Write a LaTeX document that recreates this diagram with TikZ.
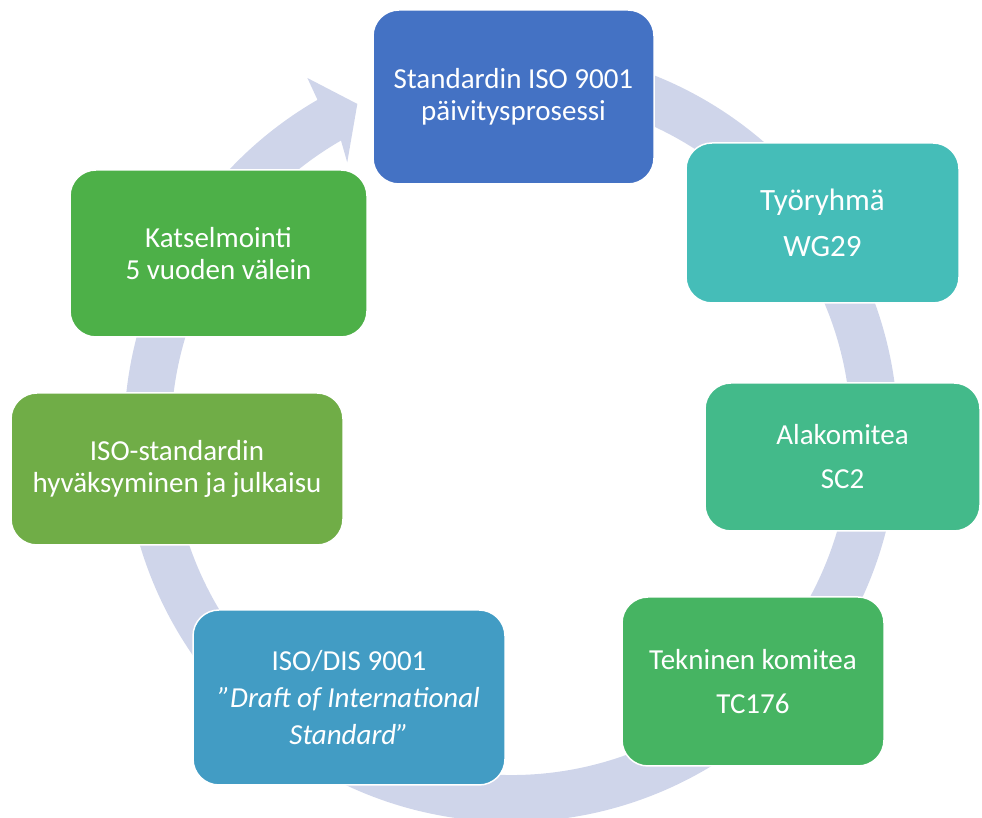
\documentclass[tikz,border=0pt]{standalone}
\usepackage{fontspec}
\setmainfont{Carlito}
\usepackage{tikz}
\definecolor{ringblue}{HTML}{CFD5EA}
\definecolor{topblue}{HTML}{4472C4}
\definecolor{teal}{HTML}{45BDB8}
\definecolor{seagreen}{HTML}{43BA8A}
\definecolor{midgreen}{HTML}{46B462}
\definecolor{skyblue}{HTML}{429CC4}
\definecolor{olivegreen}{HTML}{70AD47}
\definecolor{leafgreen}{HTML}{4DB048}
\tikzstyle{stage}=[rounded corners=26pt, draw=white, line width=1.5pt, text=white, align=center, inner sep=0pt, font=\fontsize{29}{32}\selectfont]
\newcommand{\stage}{\node[stage]}

\begin{document}
\begin{tikzpicture}[x=1pt,y=1pt]
            \useasboundingbox (0,0) rectangle (982,818);
            % ring with arrow head
            \begin{scope}[shift={(511,383)}]
                \fill[ringblue] (85:387) arc[start angle=85,end angle=-240,radius=387]
                    -- (119.7:411) -- (114.9:365) -- (121:318) -- (120:340)
                    arc[start angle=-240,end angle=85,radius=340] -- cycle;
            \end{scope}
            \stage[fill=topblue, minimum width=281, minimum height=174] (iso) at (513.5,721)
                {Standardin ISO 9001\\päivitysprosessi};
            \stage[fill=teal, minimum width=273, minimum height=160, font=\fontsize{31}{33}\selectfont] (wg) at (822.5,595)
                {Työryhmä\\[13pt]WG29};
            \stage[fill=seagreen, minimum width=275, minimum height=148] (sc) at (842.5,361)
                {Alakomitea\\[12pt]SC2};
            \stage[fill=midgreen, minimum width=262, minimum height=169] (tc) at (753,136.5)
                {Tekninen komitea\\[12pt]TC176};
            \stage[fill=skyblue, minimum width=312, minimum height=175] (dis) at (349,120.5)
                {ISO/DIS 9001\\[5pt]\textit{”Draft of International}\\[5pt]\textit{Standard”}};
            \stage[fill=olivegreen, minimum width=332, minimum height=152] (pub) at (177,349)
                {ISO-standardin\\hyväksyminen ja julkaisu};
            \stage[fill=leafgreen, minimum width=297, minimum height=167] (rev) at (218.5,564.5)
                {Katselmointi\\5 vuoden välein};
\end{tikzpicture}
\end{document}
